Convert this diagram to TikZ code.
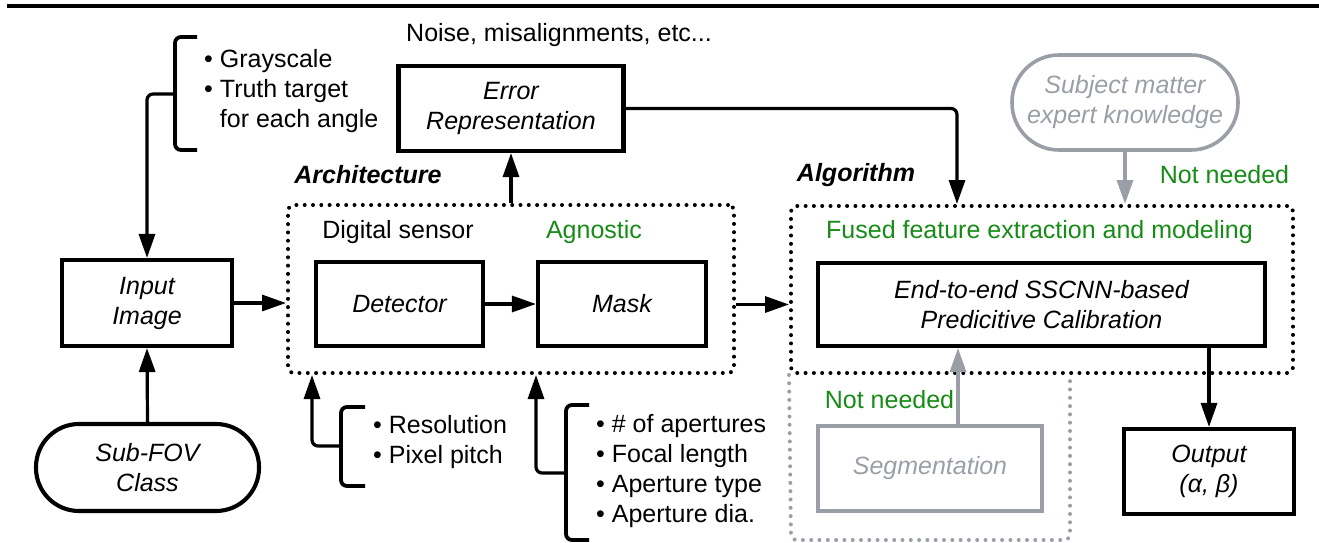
\documentclass[tikz,border=0pt]{standalone}
\usepackage{fontspec}
\setmainfont{Liberation Sans}
\usetikzlibrary{arrows.meta}
\definecolor{mutedgray}{RGB}{154,159,167}
\definecolor{notegreen}{RGB}{22,140,22}

\tikzset{
  base/.style={font=\fontsize{25}{30}\selectfont, align=center, inner sep=0pt},
  block/.style={base, draw, line width=4.1pt, font=\fontsize{25}{30}\selectfont\itshape},
  pill/.style={block, rounded corners=#1},
  faded/.style={draw=mutedgray, text=mutedgray},
  conn/.style={line width=3.2pt, -{Triangle[length=24pt,width=16pt]}, rounded corners=6pt},
  brace/.style={line width=3.8pt, rounded corners=6pt},
  group/.style={draw, line width=4pt, dash pattern=on 0pt off 8.3pt, line cap=round, rounded corners=6pt},
  heading/.style={base, font=\fontsize{25}{30}\selectfont\bfseries\itshape},
  note/.style={base, text=notegreen},
  items/.style={base, align=left, anchor=west},
}

\begin{document}
\begin{tikzpicture}[x=1pt,y=-1pt]
\useasboundingbox (0,0) rectangle (1319,543);

% header rule
\draw[line width=4.5pt] (7,6) -- (1319,6);

% dotted groups
\node[group, minimum width=446pt, minimum height=168pt] (arch) at (511,289) {};
\node[group, minimum width=502pt, minimum height=167pt] (algo) at (1042,289.5) {};
\draw[group, draw=mutedgray] (algo.south west) -- (791,540) -- (1070,540) -- (1070,373);

% blocks
\node[block, minimum width=170pt, minimum height=86pt] (inp) at (147,303) {Input\\Image};
\node[block, minimum width=225pt, minimum height=85pt] (err) at (511,108.5) {Error\\Representation};
\node[block, minimum width=167pt, minimum height=84pt] (det) at (399.5,304) {Detector};
\node[block, minimum width=168pt, minimum height=84pt] (mask) at (622,304) {Mask};
\node[block, minimum width=447pt, minimum height=83pt] (e2e) at (1041.5,304.5) {End-to-end SSCNN-based\\Predicitive Calibration};
\node[block, minimum width=170pt, minimum height=85pt] (out) at (1209,471.5) {Output\\(α, β)};
\node[block, faded, line width=3.6pt, minimum width=224pt, minimum height=85pt] (seg) at (930,468.5) {Segmentation};
\node[pill=43pt, minimum width=223pt, minimum height=87pt] (sub) at (147.5,467.5) {Sub-FOV\\Class};
\node[pill=47pt, faded, line width=3.6pt, minimum width=226pt, minimum height=95pt] (sme) at (1125,102.5) {Subject matter\\expert knowledge};

% labels
\node[base, anchor=west] (noise) at (406,35) {Noise, misalignments, etc...};
\node[heading] (archlbl) at (368,175) {Architecture};
\node[heading] (algolbl) at (856,175) {Algorithm};
\node[base] (dsens) at (398,232) {Digital sensor};
\node[note] (agn) at (594,232) {Agnostic};
\node[note] (fused) at (1039.5,232) {Fused feature extraction and modeling};
\node[note] (nn1) at (1224.5,175) {Not needed};
\node[note] (nn2) at (889.5,400) {Not needed};

% bracketed parameter lists
\node[items] (l1) at (204,91) {• Grayscale\\• Truth target\\\phantom{• }for each angle};
\node[items] (l2) at (373,442) {• Resolution\\• Pixel pitch};
\node[items] (l3) at (596,471) {• \# of apertures\\• Focal length\\• Aperture type\\• Aperture dia.};

\draw[brace] (197,37) -- (175,37) -- (175,150) -- (197,150);
\draw[brace] (365,407) -- (341,407) -- (341,486) -- (365,486);
\draw[brace] (589,405) -- (566,405) -- (566,540) -- (589,540);
\coordinate (b1) at (175,94);
\coordinate (b2) at (341,446);
\coordinate (b3) at (566,473);

% connectors
\draw[conn] (b1) -| (inp.north);
\draw[conn] (b2) -| ([xshift=26pt]arch.south west);
\draw[conn] (b3) -| ([xshift=250pt]arch.south west);
\draw[conn] (sub.north) -- (inp.south);
\draw[conn] (inp.east) -- (inp.east -| arch.west);
\draw[conn] (det) -- (mask);
\draw[conn] (arch.north) -- (err.south);
\draw[conn] (err.east) -| ([xshift=168pt]algo.north west);
\draw[conn, color=mutedgray] (sme.south) -- (sme.south |- algo.north);
\draw[conn] (arch.east |- e2e.west) -- (algo.west |- e2e.west);
\draw[conn] (out.north |- e2e.south) -- (out.north);
\draw[conn, color=mutedgray] ([xshift=28pt]seg.north) -- ([xshift=28pt]seg.north |- e2e.south);
\end{tikzpicture}
\end{document}
